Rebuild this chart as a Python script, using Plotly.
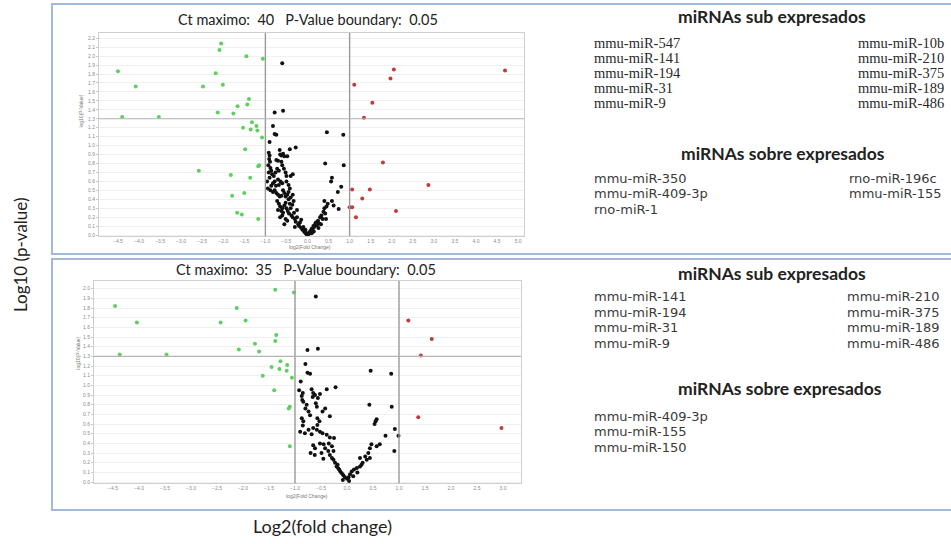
import plotly.graph_objects as go

W, H = 951, 544

# ---------------- data ----------------
# Panel 1 (Ct max 40)
top_green_x = [-4.50, -4.08, -4.40, -3.53, -2.58, -2.48, -2.18, -2.13, -2.09, -2.05, -2.01, -1.82, -1.79,
               -1.76, -1.66, -1.67, -1.56, -1.53, -1.50, -1.48, -1.45, -1.43, -1.39, -1.36, -1.35, -1.32,
               -1.21, -1.19, -1.17, -1.15, -1.17, -1.08, -1.06]
top_green_y = [1.83, 1.66, 1.32, 1.32, 0.72, 1.66, 1.81, 1.37, 2.07, 2.14, 1.68, 0.67, 0.44,
               1.36, 1.44, 0.25, 0.23, 1.20, 0.47, 0.96, 2.00, 1.46, 1.52, 0.64, 1.18, 1.26,
               1.22, 1.17, 0.77, 0.78, 0.18, 1.09, 1.97]
top_red_x = [1.11, 1.34, 1.54, 1.97, 2.05, 4.69, 1.79, 2.87, 1.06, 1.48, 1.30, 1.00, 1.06, 1.15, 2.10]
top_red_y = [1.68, 1.31, 1.48, 1.75, 1.85, 1.84, 0.81, 0.56, 0.51, 0.51, 0.41, 0.31, 0.31, 0.20, 0.27]
top_black_x = [-0.60, -0.78, -0.58, -0.82, -0.78, -0.74, -0.90, 0.46, 0.85, -0.42, -0.28,
               -0.92, -0.90, -0.91, -0.89, -0.93, -0.88, -0.86, -0.92, -0.84, -0.90, -0.80, -0.76,
               -0.72, -0.68, -0.65, -0.62, -0.58, -0.55, -0.66, -0.48, -0.70, -0.64, -0.60, -0.68,
               -0.50, -0.45, -0.42, -0.94, -0.88, -0.82, -0.78, -0.74, -0.70, -0.66, -0.62, -0.58,
               -0.55, -0.52, -0.48, -0.45, -0.40, -0.35, -0.72, -0.68, -0.65, -0.60, -0.62, -0.58,
               -0.55, -0.50, -0.47, -0.44, -0.40, -0.38, -0.35, -0.32, -0.30, -0.28, -0.25, -0.22,
               -0.20, -0.18, -0.15, -0.12, -0.10, -0.08, -0.06, -0.04, -0.02, 0.00, 0.02, 0.04,
               0.06, 0.08, 0.10, 0.12, 0.14, 0.16, 0.18, 0.20, 0.22, 0.25, 0.28, 0.30, 0.33, 0.36,
               0.38, 0.40, 0.42, 0.45, 0.40, 0.48, 0.58, 0.62, 0.72, 0.74, 0.80, 0.56, 0.58, 0.42,
               0.86, -0.55, -0.30, -0.52, -0.48, -0.42, -0.36, -0.33, -0.60, -0.65, -0.70, -0.78,
               -0.82, -0.86, -0.74, -0.70, -0.60, -0.56, -0.52, -0.50, -0.40, -0.35, -0.62, -0.96,
               -0.75, -0.52, -0.45, -0.25, -0.15, 0.15, 0.26, 0.32, 0.44, 0.10, -0.05]
top_black_y = [1.92, 1.37, 1.39, 1.22, 1.13, 1.12, 1.04, 1.15, 1.12, 0.96, 0.98,
               0.92, 0.89, 0.85, 0.82, 0.78, 0.75, 0.72, 0.70, 0.68, 0.64, 0.66, 0.70,
               0.74, 0.72, 0.90, 0.89, 0.91, 0.88, 0.95, 0.88, 0.62, 0.60, 0.58, 0.56,
               0.60, 0.56, 0.52, 0.52, 0.50, 0.48, 0.50, 0.47, 0.45, 0.43, 0.44, 0.50,
               0.47, 0.43, 0.45, 0.40, 0.42, 0.45, 0.38, 0.35, 0.32, 0.30, 0.27, 0.25,
               0.33, 0.30, 0.27, 0.24, 0.30, 0.22, 0.20, 0.25, 0.18, 0.15, 0.20, 0.12,
               0.10, 0.14, 0.08, 0.06, 0.09, 0.04, 0.03, 0.02, 0.01, 0.00, 0.01, 0.03,
               0.02, 0.05, 0.07, 0.06, 0.10, 0.09, 0.12, 0.14, 0.11, 0.16, 0.13, 0.20, 0.22, 0.18,
               0.26, 0.30, 0.24, 0.32, 0.38, 0.35, 0.38, 0.33, 0.48, 0.29, 0.54, 0.60, 0.64, 0.80,
               0.78, 0.12, 0.09, 0.18, 0.16, 0.35, 0.34, 0.38, 0.22, 0.20, 0.28, 0.60,
               0.58, 0.55, 0.84, 0.83, 0.78, 0.74, 0.70, 0.66, 0.66, 0.68, 0.82, 0.60,
               0.55, 0.36, 0.48, 0.28, 0.17, 0.04, 0.08, 0.12, 0.18, 0.02, 0.06]

# Panel 2 (Ct max 35)
bot_green_x = [-4.46, -4.37, -4.04, -3.47, -2.43, -2.12, -2.08, -1.95, -1.77, -1.69, -1.38, -1.02,
               -1.36, -1.38, -1.28, -1.45, -1.30, -1.15, -1.16, -1.62, -1.40, -1.06, -1.12, -1.10, -1.10]
bot_green_y = [1.82, 1.32, 1.65, 1.32, 1.65, 1.80, 1.37, 1.67, 1.43, 1.35, 1.99, 1.96,
               1.52, 1.46, 1.25, 1.19, 1.17, 1.21, 1.15, 1.10, 0.95, 1.08, 0.76, 0.78, 0.37]
bot_red_x = [1.18, 1.63, 1.42, 1.37, 2.97]
bot_red_y = [1.67, 1.48, 1.31, 0.67, 0.56]
bot_black_x = [-0.60, -0.76, -0.56, -0.80, -0.76, -0.71, -0.89, 0.455, 0.85, -0.68, -0.39, -0.22,
               0.43, 0.86, 0.57, 0.55, 0.53, 0.92, 0.99, 0.74, 0.91, 0.63, 0.57, 0.47, 0.44, 0.41,
               0.44, 0.35, 0.38, 0.25, 0.19, 0.135, 0.09, 0.06, 0.03, 0.00, -0.04, -0.07, -0.10,
               -0.13, -0.166, -0.20, -0.23, -0.26, -0.29, -0.33, -0.36, -0.49, -0.45, -0.52,
               -0.615, -0.65, -0.455, 0.25, 0.28, -0.85, -0.87, -0.86, -0.84, -0.65, -0.615,
               -0.52, -0.66, -0.56, -0.60, -0.58, -0.775, -0.80, -0.74, -0.71, -0.47, -0.33,
               -0.42, -0.87, -0.84, -0.85, -0.90, -0.81, -0.68, -0.74, -0.58, -0.52, -0.47,
               -0.39, -0.33, -0.25, -0.57, -0.53, -0.57, -0.65, -0.35, -0.29, -0.42, -0.26,
               -0.92, -0.70, -0.62, -0.15, 0.12, 0.20, 0.30, -0.08, 0.04, -0.18]
bot_black_y = [1.92, 1.365, 1.38, 1.22, 1.13, 1.12, 1.04, 1.15, 1.12, 0.96, 0.96, 0.98,
               0.80, 0.78, 0.65, 0.63, 0.60, 0.55, 0.48, 0.48, 0.32, 0.39, 0.37, 0.39, 0.35, 0.30,
               0.25, 0.265, 0.23, 0.25, 0.145, 0.13, 0.11, 0.08, 0.05, 0.035, 0.05, 0.07, 0.09,
               0.11, 0.14, 0.16, 0.20, 0.23, 0.25, 0.28, 0.32, 0.30, 0.39, 0.40,
               0.35, 0.38, 0.24, 0.16, 0.18, 0.92, 0.89, 0.85, 0.83, 0.92, 0.90,
               0.91, 0.88, 0.87, 0.815, 0.78, 0.80, 0.76, 0.73, 0.69, 0.73, 0.68,
               0.76, 0.66, 0.63, 0.585, 0.52, 0.505, 0.495, 0.54, 0.54, 0.52, 0.505,
               0.49, 0.46, 0.455, 0.66, 0.63, 0.59, 0.56, 0.40, 0.37, 0.35, 0.32,
               0.95, 0.30, 0.28, 0.13, 0.06, 0.10, 0.20, 0.02, 0.01, 0.18]

FC_THRESH = 1.0
P_THRESH = 1.3

titles = ["Ct maximo:\u00a0 40\u00a0\u00a0 P-Value boundary:\u00a0 0.05",
          "Ct maximo:\u00a0 35\u00a0\u00a0 P-Value boundary:\u00a0 0.05"]

top_sub_left = ["mmu-miR-547", "mmu-miR-141", "mmu-miR-194", "mmu-miR-31", "mmu-miR-9"]
top_sub_right = ["mmu-miR-10b", "mmu-miR-210", "mmu-miR-375", "mmu-miR-189", "mmu-miR-486"]
top_sobre_left = ["mmu-miR-350", "mmu-miR-409-3p", "rno-miR-1"]
top_sobre_right = ["rno-miR-196c", "mmu-miR-155"]
bot_sub_left = ["mmu-miR-141", "mmu-miR-194", "mmu-miR-31", "mmu-miR-9"]
bot_sub_right = ["mmu-miR-210", "mmu-miR-375", "mmu-miR-189", "mmu-miR-486"]
bot_sobre_left = ["mmu-miR-409-3p", "mmu-miR-155", "mmu-miR-150"]

# ---------------- figure ----------------
def PX(x):
    return x / W

def PY(y):
    return 1 - y / H

fig = go.Figure()

GREEN = "#5fcf5f"
RED = "#c23a3a"
BLACK = "#111111"
MS = 4

def add_panel(gx, gy, rx, ry, bx, by, xa, ya):
    fig.add_trace(go.Scatter(x=bx, y=by, mode="markers", xaxis=xa, yaxis=ya,
                             marker=dict(color=BLACK, size=MS), showlegend=False, hoverinfo="skip"))
    fig.add_trace(go.Scatter(x=gx, y=gy, mode="markers", xaxis=xa, yaxis=ya,
                             marker=dict(color=GREEN, size=MS), showlegend=False, hoverinfo="skip"))
    fig.add_trace(go.Scatter(x=rx, y=ry, mode="markers", xaxis=xa, yaxis=ya,
                             marker=dict(color=RED, size=MS), showlegend=False, hoverinfo="skip"))

add_panel(top_green_x, top_green_y, top_red_x, top_red_y, top_black_x, top_black_y, "x", "y")
add_panel(bot_green_x, bot_green_y, bot_red_x, bot_red_y, bot_black_x, bot_black_y, "x2", "y2")

tickfont = dict(family="Liberation Sans", size=5, color="#8a8a8a")
common_x = dict(showgrid=False, zeroline=False, showline=True, mirror=True, linecolor="#cfcfcf",
                linewidth=1, dtick=0.5, tickformat=".1f", tickfont=tickfont, ticks="",
                fixedrange=True)
common_y = dict(showgrid=True, gridcolor="#f0f0f0", gridwidth=1, zeroline=False, showline=True,
                mirror=True, linecolor="#cfcfcf", linewidth=1, dtick=0.1, tickformat=".1f",
                tickfont=tickfont, ticks="outside", ticklen=2, tickcolor="#c8c8c8", fixedrange=True)

fig.update_layout(
    width=W, height=H, margin=dict(l=0, r=0, t=0, b=0),
    paper_bgcolor="white", plot_bgcolor="white",
    xaxis=dict(common_x, domain=[PX(99), PX(524)], range=[-4.95, 5.14], anchor="y"),
    yaxis=dict(common_y, domain=[PY(237), PY(33)], range=[-0.012, 2.26], anchor="x"),
    xaxis2=dict(common_x, domain=[PX(94), PX(521)], range=[-4.865, 3.346], anchor="y2"),
    yaxis2=dict(common_y, domain=[PY(485), PY(282)], range=[-0.012, 2.08], anchor="x2"),
)

shapes = []
for xr, yr in (("x", "y"), ("x2", "y2")):
    for v in (-FC_THRESH, FC_THRESH):
        shapes.append(dict(type="line", xref=xr, yref=yr + " domain", x0=v, x1=v, y0=0, y1=1,
                           line=dict(color="#9a9a9a", width=1.4)))
    shapes.append(dict(type="line", xref=xr + " domain", yref=yr, x0=0, x1=1, y0=P_THRESH, y1=P_THRESH,
                       line=dict(color="#b5b5b5", width=1.2)))
# panel frames
for y0, y1 in ((4, 255), (260, 512)):
    shapes.append(dict(type="rect", xref="paper", yref="paper", x0=PX(52), x1=PX(960),
                       y0=PY(y1), y1=PY(y0), line=dict(color="#a3b9dc", width=2)))
fig.update_layout(shapes=shapes)

ann = []
def text(x, y, s, size, family="Lato", color="#333333", xanchor="left", bold=False, angle=0):
    if bold:
        s = "<b>" + s + "</b>"
    ann.append(dict(x=PX(x), y=PY(y), xref="paper", yref="paper", text=s, showarrow=False,
                    xanchor=xanchor, yanchor="middle", textangle=angle,
                    font=dict(family=family, size=size, color=color)))

# plot titles
text(308, 20, titles[0], 14.5, xanchor="center", color="#222222")
text(306, 270, titles[1], 14.5, xanchor="center", color="#222222")
# small axis titles
text(81, 112, "log10(P-Value)", 5, family="Liberation Sans", color="#777777", xanchor="center", angle=-90)
text(310, 248, "log2(Fold Change)", 5, family="Liberation Sans", color="#777777", xanchor="center")
text(78, 355, "log10(P-Value)", 5, family="Liberation Sans", color="#777777", xanchor="center", angle=-90)
text(307, 498, "log2(Fold Change)", 5, family="Liberation Sans", color="#777777", xanchor="center")
# big labels
text(20, 256, "Log10 (p-value)", 17, xanchor="center", color="#222222", angle=-90)
text(322, 528, "Log2(fold change)", 18, xanchor="center", color="#222222")

# right side lists - top
HDR = 17.5
SANS = "DejaVu Sans"
LS = 13
text(772, 17, "miRNAs sub expresados", HDR, xanchor="center", color="#222222", bold=True)
for i, s in enumerate(top_sub_left):
    text(592, 43 + i * 15.2, s, 14.5, family="Liberation Serif", color="#2a2a2a")
for i, s in enumerate(top_sub_right):
    text(946, 43 + i * 15.2, s, 14.5, family="Liberation Serif", color="#2a2a2a", xanchor="right")
text(783, 154, "miRNAs sobre expresados", HDR, xanchor="center", color="#222222", bold=True)
for i, s in enumerate(top_sobre_left):
    text(592, 179 + i * 15.5, s, LS, family=SANS, color="#3a3a3a")
for i, s in enumerate(top_sobre_right):
    text(847, 179 + i * 15.5, s, LS, family=SANS, color="#3a3a3a")

# right side lists - bottom
text(772, 275, "miRNAs sub expresados", HDR, xanchor="center", color="#222222", bold=True)
for i, s in enumerate(bot_sub_left):
    text(592, 298 + i * 15.6, s, LS, family=SANS, color="#3a3a3a")
for i, s in enumerate(bot_sub_right):
    text(942, 298 + i * 15.6, s, LS, family=SANS, color="#3a3a3a", xanchor="right")
text(780, 390, "miRNAs sobre expresados", HDR, xanchor="center", color="#222222", bold=True)
for i, s in enumerate(bot_sobre_left):
    text(592, 418 + i * 15.5, s, LS, family=SANS, color="#3a3a3a")

fig.update_layout(annotations=ann)
fig.write_html("out.html")
